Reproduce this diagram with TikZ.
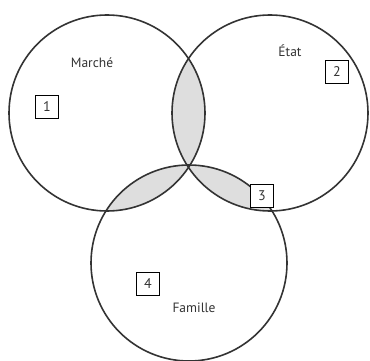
\documentclass[tikz,border=0pt]{standalone}
\usepackage{fontspec}
\setsansfont{PT Sans}

\tikzset{
  numbox/.style={draw, fill=white, line width=1.5pt, minimum size=23pt, inner sep=0pt, font=\sffamily\fontsize{14}{16}\selectfont, text=black!80},
  sphere/.style={font=\sffamily\fontsize{13.5}{16}\selectfont, text=black!80},
}

\begin{document}
\begin{tikzpicture}[x=1pt, y=-1pt]
    \useasboundingbox (0, 0) rectangle (370, 361);

    % overlaps
    \begin{scope}
      \clip (107, 113) circle (98pt);
      \fill[black!13] (270, 113) circle (98pt);
      \fill[black!13] (189, 263) circle (98pt);
    \end{scope}
    \begin{scope}
      \clip (270, 113) circle (98pt);
      \fill[black!13] (189, 263) circle (98pt);
    \end{scope}

    \draw[line width=1.6pt, black!80] (107, 113) circle (98pt);
    \draw[line width=1.6pt, black!80] (270, 113) circle (98pt);
    \draw[line width=1.6pt, black!80] (189, 263) circle (98pt);

    \node[sphere] (marche) at (92, 63) {Marché};
    \node[sphere] (etat) at (290, 51) {État};
    \node[sphere] (famille) at (194, 308) {Famille};

    \node[numbox] (one) at (47, 107) {1};
    \node[numbox] (two) at (337, 72) {2};
    \node[numbox] (three) at (262, 196) {3};
    \node[numbox] (four) at (148, 284) {4};
  \end{tikzpicture}
\end{document}
